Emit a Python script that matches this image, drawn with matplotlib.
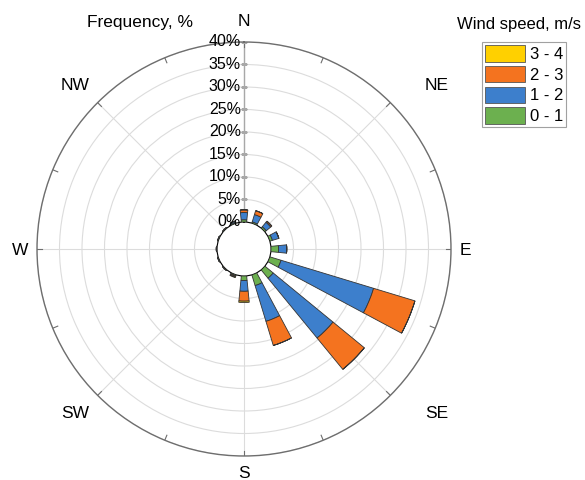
import numpy as np
import matplotlib.pyplot as plt
from matplotlib.patches import Patch
from matplotlib.transforms import offset_copy

plt.rcParams['font.family'] = ['Liberation Sans', 'DejaVu Sans']

# 16 wind directions, clockwise from north
dirs = ['N', 'NNE', 'NE', 'ENE', 'E', 'ESE', 'SE', 'SSE',
        'S', 'SSW', 'SW', 'WSW', 'W', 'WNW', 'NW', 'NNW']
# frequency (%) per speed class
spd_0_1 = [0.5, 0.3, 0.4, 0.6, 1.7, 2.6, 2.4, 2.5, 1.0, 0.2, 0.15, 0.15, 0.15, 0.15, 0.15, 0.2]
spd_1_2 = [1.6, 1.7, 1.3, 1.5, 1.8, 21.5, 17.2, 8.3, 2.4, 0.1, 0.0, 0.0, 0.0, 0.0, 0.0, 0.3]
spd_2_3 = [0.6, 0.9, 0.3, 0.0, 0.0, 9.6, 9.0, 5.6, 2.2, 0.2, 0.0, 0.0, 0.0, 0.0, 0.0, 0.0]
spd_3_4 = [0.0, 0.0, 0.0, 0.0, 0.0, 0.0, 0.0, 0.0, 0.3, 0.15, 0.0, 0.0, 0.0, 0.0, 0.0, 0.0]
classes = ['0 - 1', '1 - 2', '2 - 3', '3 - 4']
colors = {'0 - 1': '#6cb04f', '1 - 2': '#3d7fcc', '2 - 3': '#f4731f', '3 - 4': '#ffd000'}
rings = [0, 5, 10, 15, 20, 25, 30, 35, 40]

fig = plt.figure(figsize=(5.85, 4.8), dpi=100)
ax = fig.add_axes([37/585, 24/480, 414/585, 414/480], projection='polar')
ax.set_theta_zero_location('N')
ax.set_theta_direction(-1)
ax.set_ylim(0, 40)
ax.set_rorigin(-6)

theta = np.deg2rad(np.arange(len(dirs)) * 22.5)
width = np.deg2rad(11.25)

# stacked bars
bottom = np.zeros(len(dirs))
for name, vals in zip(classes, [spd_0_1, spd_1_2, spd_2_3, spd_3_4]):
    vals = np.array(vals)
    ax.bar(theta, vals, width=width, bottom=bottom, color=colors[name],
           edgecolor='#333333', linewidth=0.6, zorder=3)
    bottom = bottom + vals

# grid
ax.set_yticks(rings)
ax.set_yticklabels([])
ax.set_xticks(np.deg2rad(np.arange(0, 360, 45)))
ax.set_xticklabels([])
ax.grid(True, color='#dcdcdc', linewidth=0.8)
ax.spines['polar'].set_color('#6e6e6e')
ax.spines['polar'].set_linewidth(1.0)
ax.tick_params(length=0)

# radial axis line and small ticks on the rim
ax.plot([0, 0], [0, 40], color='#a8a8a8', linewidth=1.0, zorder=2)
for t in theta:
    ax.plot([t, t], [38.8, 40], color='#6e6e6e', linewidth=0.8, zorder=2)

# radial labels
tr = offset_copy(ax.transData, fig=fig, x=-3, y=0, units='dots')
for r in rings:
    ax.text(0, r, f'{r}%', transform=tr, ha='right', va='center', fontsize=11.5, zorder=4)
    ax.plot([0, 0], [r, r], marker=(2, 0, 90), markersize=4, color='#a8a8a8', zorder=2)

# compass labels
lab_pos = {'N': (244, 22), 'NE': (437, 86), 'E': (465, 250), 'SE': (437, 413),
           'S': (244, 474), 'SW': (75, 413), 'W': (20, 250), 'NW': (75, 86)}
for k, (px, py) in lab_pos.items():
    fig.text(px/585, 1 - py/480, k, ha='center', va='center', fontsize=12.5)

fig.text(140/585, 1 - 22/480, 'Frequency, %', ha='center', va='center', fontsize=12.5)
fig.text(457/585, 1 - 24/480, 'Wind speed, m/s', ha='left', va='center', fontsize=12)

handles = [Patch(facecolor=colors[c], edgecolor='#555555', linewidth=0.6, label=c)
           for c in classes[::-1]]
leg = fig.legend(handles=handles, loc='upper left', bbox_to_anchor=(482/585, 1 - 42/480),
                 fontsize=12, frameon=True, fancybox=False, borderpad=0.2,
                 handlelength=2.35, handleheight=1.15, labelspacing=0.22,
                 handletextpad=0.3, borderaxespad=0)
leg.get_frame().set_edgecolor('#8a8a8a')
leg.get_frame().set_linewidth(0.8)

fig.savefig('out.png', dpi=100)
